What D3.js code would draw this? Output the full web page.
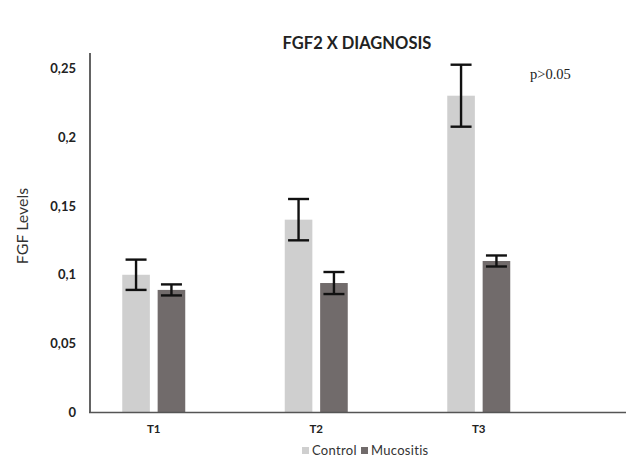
<!DOCTYPE html>
<html>
<head>
<meta charset="utf-8">
<script src="https://cdn.jsdelivr.net/npm/d3@7/dist/d3.min.js"></script>
<style>
  html, body { margin: 0; padding: 0; background: #fff; }
  svg { display: block; }
</style>
</head>
<body>
<svg id="chart" width="634" height="461"></svg>
<script>
// ---- data ----
const categories = ["T1", "T2", "T3"];
const seriesNames = ["Control", "Mucositis"];
const controlValues = [0.100, 0.140, 0.230];
const controlErrors = [0.011, 0.015, 0.0225];
const mucositisValues = [0.089, 0.094, 0.110];
const mucositisErrors = [0.004, 0.008, 0.004];
const yTicks = [0, 0.05, 0.1, 0.15, 0.2, 0.25];
const yTickLabels = ["0", "0,05", "0,1", "0,15", "0,2", "0,25"];
const titleText = "FGF2 X DIAGNOSIS";
const yAxisTitle = "FGF Levels";
const annotation = "p>0.05";

const colors = { Control: "#cfcfcf", Mucositis: "#716b6b" };

const rows = categories.map((c, i) => ({
  cat: c,
  values: [
    { s: "Control", v: controlValues[i], e: controlErrors[i] },
    { s: "Mucositis", v: mucositisValues[i], e: mucositisErrors[i] }
  ]
}));

const svg = d3.select("#chart");
const font = "Lato, 'Open Sans', sans-serif";

// ---- scales ----
const plotLeft = 90, plotRight = 626, plotBottom = 412.5, plotTop = 53;
const y = d3.scaleLinear().domain([0, 0.261]).range([plotBottom, plotTop]);
const x0 = d3.scaleBand().domain(categories).range([72.5, 560]).padding(0);
const x1 = d3.scaleBand().domain(seriesNames).range([-31.5, 31.5]).paddingInner(0.22).paddingOuter(0);

// ---- title ----
svg.append("text")
  .attr("x", 357).attr("y", 49)
  .attr("text-anchor", "middle")
  .attr("font-family", font).attr("font-weight", 700)
  .attr("font-size", 16.5).attr("fill", "#222")
  .text(titleText);

// ---- bars ----
const g = svg.append("g");
const groups = g.selectAll("g.grp").data(rows).enter().append("g")
  .attr("class", "grp")
  .attr("transform", d => `translate(${x0(d.cat) + x0.bandwidth() / 2},0)`);

groups.selectAll("rect").data(d => d.values).enter().append("rect")
  .attr("x", d => x1(d.s))
  .attr("width", x1.bandwidth())
  .attr("y", d => y(d.v))
  .attr("height", d => y(0) - y(d.v))
  .attr("fill", d => colors[d.s]);

// ---- error bars ----
const capW = 21;
const eb = groups.selectAll("g.eb").data(d => d.values).enter().append("g")
  .attr("class", "eb")
  .attr("stroke", "#111").attr("stroke-width", 2.4).attr("fill", "none");
eb.append("line")
  .attr("x1", d => x1(d.s) + x1.bandwidth() / 2)
  .attr("x2", d => x1(d.s) + x1.bandwidth() / 2)
  .attr("y1", d => y(d.v + d.e)).attr("y2", d => y(d.v - d.e));
eb.append("line")
  .attr("x1", d => x1(d.s) + x1.bandwidth() / 2 - capW / 2)
  .attr("x2", d => x1(d.s) + x1.bandwidth() / 2 + capW / 2)
  .attr("y1", d => y(d.v + d.e)).attr("y2", d => y(d.v + d.e));
eb.append("line")
  .attr("x1", d => x1(d.s) + x1.bandwidth() / 2 - capW / 2)
  .attr("x2", d => x1(d.s) + x1.bandwidth() / 2 + capW / 2)
  .attr("y1", d => y(d.v - d.e)).attr("y2", d => y(d.v - d.e));

// ---- axes ----
const yAxis = d3.axisLeft(y).tickValues(yTicks)
  .tickFormat((d, i) => yTickLabels[i]).tickSize(0).tickPadding(14);
const yg = svg.append("g").attr("transform", `translate(${plotLeft},0)`).call(yAxis);
yg.select(".domain").remove();
yg.selectAll("text")
  .attr("font-family", font).attr("font-weight", 700)
  .attr("font-size", 13).attr("fill", "#222");

svg.append("line")
  .attr("x1", plotLeft).attr("x2", plotLeft)
  .attr("y1", plotTop).attr("y2", plotBottom)
  .attr("stroke", "#222").attr("stroke-width", 1.4);

const xAxis = d3.axisBottom(x0).tickSize(0).tickPadding(12);
const xg = svg.append("g").attr("transform", `translate(0,${plotBottom})`).call(xAxis);
xg.select(".domain").remove();
xg.selectAll("text")
  .attr("font-family", font).attr("font-weight", 700)
  .attr("font-size", 11.5).attr("fill", "#222");

svg.append("line")
  .attr("x1", plotLeft - 1).attr("x2", plotRight)
  .attr("y1", plotBottom).attr("y2", plotBottom)
  .attr("stroke", "#555").attr("stroke-width", 1.5);

// ---- y axis title ----
svg.append("text")
  .attr("transform", "translate(28,226) rotate(-90)")
  .attr("text-anchor", "middle")
  .attr("font-family", font).attr("font-size", 16).attr("fill", "#333")
  .text(yAxisTitle);

// ---- annotation ----
svg.append("text")
  .attr("x", 530).attr("y", 79)
  .attr("font-family", "'Liberation Serif', 'DejaVu Serif', serif")
  .attr("font-size", 14.5).attr("fill", "#222")
  .text(annotation);

// ---- legend ----
const legendItems = [
  { s: "Control", x: 302 },
  { s: "Mucositis", x: 361 }
];
const lg = svg.append("g");
legendItems.forEach(it => {
  lg.append("rect").attr("x", it.x).attr("y", 447).attr("width", 7).attr("height", 7)
    .attr("fill", colors[it.s]);
  lg.append("text").attr("x", it.x + 10).attr("y", 455)
    .attr("font-family", font).attr("font-size", 13).attr("letter-spacing", 0.3)
    .attr("fill", "#333").text(it.s);
});
</script>
</body>
</html>
